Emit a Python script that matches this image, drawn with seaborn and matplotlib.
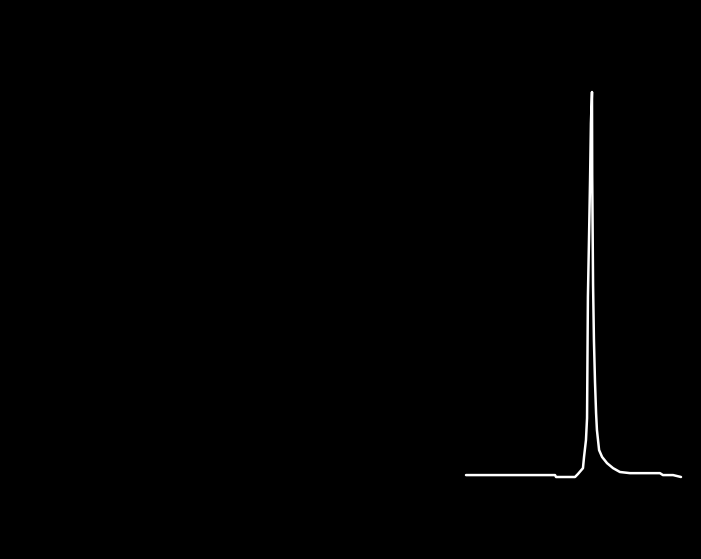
import matplotlib
matplotlib.use("Agg")
import matplotlib.pyplot as plt
import seaborn as sns
import pandas as pd

# Spectrum-like trace (arbitrary units)
x_pos = [0.0, 41.4, 41.9, 50.7, 52.1, 54.4, 54.9, 55.8, 56.3, 56.7, 57.2, 57.7,
         58.1, 58.6, 58.7, 59.1, 59.5, 60.0, 60.5, 60.9, 61.9, 63.3, 65.6, 68.4,
         71.6, 76.3, 90.2, 91.6, 96.3, 100.0]
intensity = [0.005, 0.005, 0.0, 0.0, 0.008, 0.023, 0.052, 0.096, 0.153, 0.468,
             0.616, 0.771, 0.919, 1.0, 0.784, 0.499, 0.356, 0.247, 0.166, 0.122,
             0.070, 0.052, 0.036, 0.023, 0.013, 0.010, 0.010, 0.005, 0.005, 0.0]

df = pd.DataFrame({"x": x_pos, "y": intensity})

sns.set_theme(style="dark", rc={"figure.facecolor": "black", "axes.facecolor": "black",
                                "savefig.facecolor": "black"})

W, H = 701, 559
fig = plt.figure(figsize=(W / 100, H / 100), dpi=100)
ax = fig.add_axes([466 / W, (H - 477) / H, 215 / W, 385 / H])
sns.lineplot(data=df, x="x", y="y", ax=ax, color="white", linewidth=1.8,
             sort=False, estimator=None)
for ln in ax.lines:
    ln.set_clip_on(False)
ax.set_xlim(0, 100)
ax.set_ylim(0, 1)
ax.set_axis_off()

fig.savefig("out.png", dpi=100, facecolor="black")
